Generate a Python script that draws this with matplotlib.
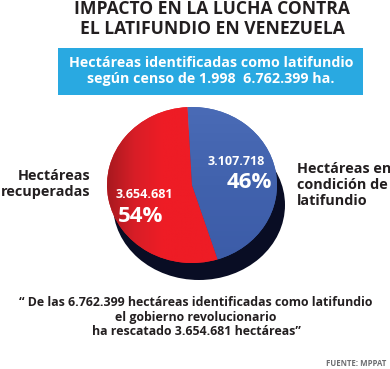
import matplotlib.pyplot as plt
import numpy as np
from matplotlib.patches import Ellipse, Rectangle
from matplotlib.colors import LinearSegmentedColormap

plt.rcParams['font.family'] = ['Open Sans', 'DejaVu Sans']

W, H = 390, 369
titulo = "IMPACTO EN LA LUCHA CONTRA\nEL LATIFUNDIO EN VENEZUELA"
caja = "Hectáreas identificadas como latifundio\nsegún censo de 1.998  6.762.399 ha."
etiquetas = ["Hectáreas\nrecuperadas", "Hectáreas en\ncondición de\nlatifundio"]
hectareas = [3654681, 3107718]
cita = ("\u201c De las 6.762.399 hectáreas identificadas como latifundio\n"
        "el gobierno revolucionario\nha rescatado 3.654.681 hectáreas\u201d")
fuente = "FUENTE: MPPAT"

total = sum(hectareas)
pct = [round(100 * v / total) for v in hectareas]
txt_num = [f"{v:,}".replace(",", ".") for v in hectareas]

fig = plt.figure(figsize=(W / 100, H / 100), dpi=100)
bg = fig.add_axes([0, 0, 1, 1])
bg.set_xlim(0, W)
bg.set_ylim(H, 0)
bg.axis('off')


def t(x, y, s, **kw):
    fig.text(x / W, 1 - y / H, s, **kw)


# blue box
bg.add_patch(Rectangle((58, 48), 305, 47, color='#29a9e1', lw=0))
# dark side of the pie
bg.add_patch(Ellipse((199, 205), 172, 150, color='#090d24', lw=0))

# pie (ellipse)
cx, cy, pw, ph = 192, 185, 170, 156
pax = fig.add_axes([(cx - pw / 2) / W, 1 - (cy + ph / 2) / H, pw / W, ph / H])
wedges, _ = pax.pie(hectareas[::-1], colors=['#4162ad', '#e41e26'],
                    startangle=93, counterclock=False, radius=1,
                    wedgeprops=dict(lw=0))
pax.set_aspect('auto')
pax.axis('off')

# shading
cm_red = LinearSegmentedColormap.from_list('r', ['#a8191f', '#d81e27', '#ee1c25', '#ee1c25', '#ee1c25'])
grad = np.tile(np.linspace(0, 1, 200), (50, 1))
im = pax.imshow(grad, cmap=cm_red, extent=(-1, 0.3, -1, 1), aspect='auto', zorder=2)
im.set_clip_path(wedges[1])
cm_blue = LinearSegmentedColormap.from_list('b', ['#4a6bb6', '#4162ad', '#3c5ca8'])
gradb = np.tile(np.linspace(0, 1, 200), (50, 1)).T
imb = pax.imshow(gradb, cmap=cm_blue, extent=(-0.2, 1, -1, 1), aspect='auto', zorder=2)
imb.set_clip_path(wedges[0])
pax.set_xlim(-1, 1)
pax.set_ylim(-1, 1)

dark = '#231f20'
t(212, 19, titulo, ha='center', va='center', fontsize=12.6, fontweight='bold',
  color=dark, linespacing=1.1)
t(211, 71, caja, ha='center', va='center', fontsize=10.3, fontweight='bold',
  color='white', linespacing=1.2)

t(90, 184, etiquetas[0], ha='right', va='center', fontsize=10.4, fontweight='bold',
  color=dark, linespacing=1.2)
t(297, 185, etiquetas[1], ha='left', va='center', fontsize=10.4, fontweight='bold',
  color=dark, linespacing=1.2)

t(144, 195, txt_num[0], ha='center', va='center', fontsize=9, fontweight='bold', color='white')
t(141, 217, f"{pct[0]}%", ha='center', va='center', fontsize=16, fontweight='bold', color='white')
t(236, 161, txt_num[1], ha='center', va='center', fontsize=9, fontweight='bold', color='white')
t(249, 183, f"{pct[1]}%", ha='center', va='center', fontsize=16, fontweight='bold', color='white')

t(196, 317, cita, ha='center', va='center', fontsize=8.9, fontweight='bold',
  color=dark, linespacing=1.15)
t(386, 363, fuente, ha='right', va='center', fontsize=5.6, fontweight='bold', color='#6d6e71')

fig.savefig('out.png', dpi=100)
